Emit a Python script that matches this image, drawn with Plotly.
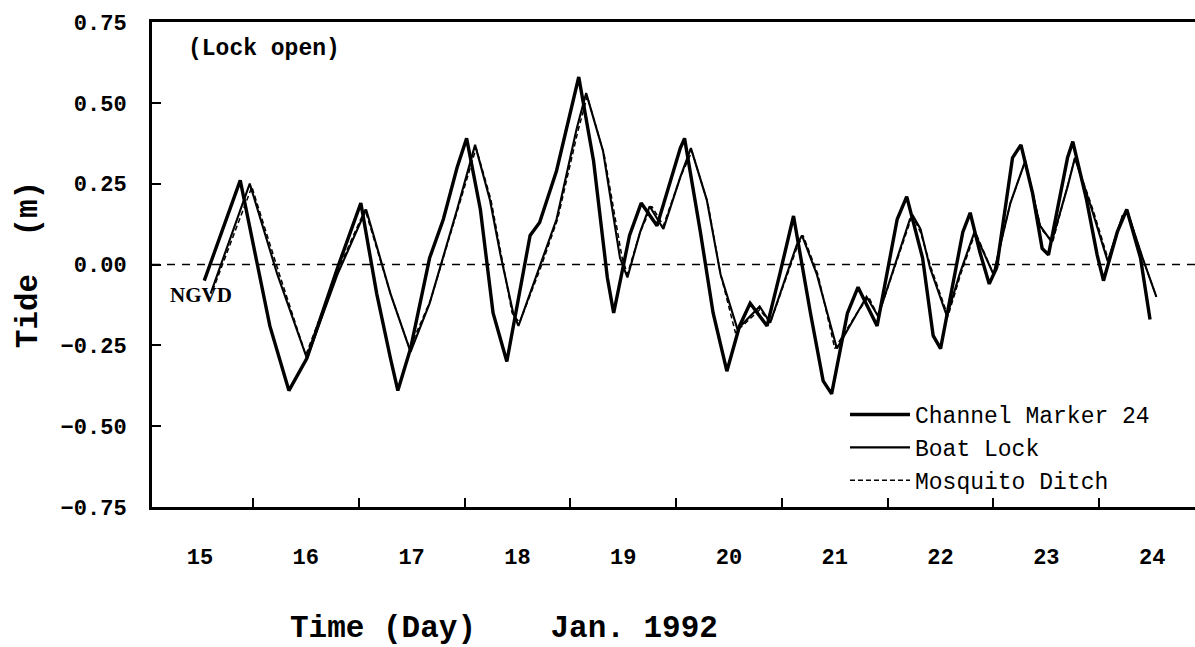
import plotly.graph_objects as go

# ---- data (day of Jan. 1992, tide in m) ----
cm_day = [15.04, 15.38, 15.66, 15.84, 16.01, 16.30, 16.52, 16.67, 16.80, 16.87, 16.99, 17.17,
          17.30, 17.43, 17.52, 17.65, 17.77, 17.90, 18.12, 18.21, 18.37, 18.58, 18.72, 18.85,
          18.91, 19.06, 19.17, 19.32, 19.54, 19.58, 19.73, 19.85, 19.98, 20.10, 20.20, 20.36,
          20.48, 20.61, 20.77, 20.89, 20.97, 21.12, 21.22, 21.40, 21.59, 21.68, 21.83, 21.93,
          22.00, 22.21, 22.28, 22.37, 22.46, 22.53, 22.68, 22.76, 22.87, 22.96, 23.02, 23.20,
          23.25, 23.38, 23.48, 23.54, 23.67, 23.76, 23.89, 23.98]
cm_tide = [-0.05, 0.26, -0.19, -0.39, -0.29, -0.01, 0.19, -0.09, -0.29, -0.39, -0.26, 0.02,
           0.14, 0.30, 0.39, 0.17, -0.15, -0.30, 0.09, 0.13, 0.29, 0.58, 0.32, -0.04,
           -0.15, 0.09, 0.19, 0.12, 0.36, 0.39, 0.10, -0.15, -0.33, -0.19, -0.12, -0.19,
           -0.03, 0.15, -0.15, -0.36, -0.40, -0.15, -0.07, -0.19, 0.14, 0.21, 0.02, -0.22,
           -0.26, 0.10, 0.16, 0.04, -0.06, -0.01, 0.33, 0.37, 0.22, 0.05, 0.03, 0.33,
           0.38, 0.20, 0.03, -0.05, 0.10, 0.17, 0.02, -0.17]

bl_day = [15.10, 15.47, 15.73, 16.01, 16.30, 16.57, 16.80, 16.99, 17.17, 17.27, 17.43, 17.60,
          17.74, 17.84, 17.96, 18.01, 18.21, 18.37, 18.56, 18.65, 18.81, 18.97, 19.04, 19.16,
          19.25, 19.38, 19.54, 19.64, 19.79, 19.92, 20.08, 20.29, 20.39, 20.64, 20.69, 20.83,
          21.02, 21.21, 21.30, 21.41, 21.71, 21.74, 21.81, 21.90, 22.06, 22.18, 22.32, 22.50,
          22.66, 22.80, 22.94, 23.05, 23.20, 23.27, 23.43, 23.58, 23.72, 23.77, 23.91, 24.04]
bl_tide = [-0.09, 0.25, -0.03, -0.29, -0.03, 0.17, -0.09, -0.27, -0.12, -0.01, 0.17, 0.37,
           0.20, 0.03, -0.15, -0.19, -0.01, 0.14, 0.42, 0.53, 0.35, 0.02, -0.04, 0.10,
           0.18, 0.11, 0.27, 0.36, 0.20, -0.03, -0.20, -0.13, -0.18, 0.06, 0.09, -0.03,
           -0.26, -0.15, -0.10, -0.16, 0.14, 0.15, 0.11, -0.01, -0.16, -0.03, 0.10, -0.03,
           0.19, 0.32, 0.12, 0.07, 0.24, 0.33, 0.17, 0.01, 0.15, 0.16, 0.02, -0.10]

md_day = [15.12, 15.49, 15.75, 16.00, 16.30, 16.56, 16.80, 16.98, 17.18, 17.28, 17.44, 17.61,
          17.75, 17.85, 17.95, 18.02, 18.22, 18.38, 18.57, 18.66, 18.82, 18.99, 19.04, 19.16,
          19.27, 19.38, 19.54, 19.65, 19.80, 19.92, 20.06, 20.29, 20.39, 20.64, 20.70, 20.84,
          21.00, 21.21, 21.32, 21.41, 21.72, 21.75, 21.81, 21.91, 22.07, 22.19, 22.33, 22.50,
          22.66, 22.80, 22.95, 23.06, 23.20, 23.27, 23.44, 23.59, 23.72, 23.77, 23.92, 24.04]
md_tide = [-0.08, 0.24, -0.03, -0.28, -0.02, 0.17, -0.09, -0.26, -0.11, 0.00, 0.17, 0.36,
           0.20, 0.02, -0.15, -0.18, -0.01, 0.14, 0.41, 0.52, 0.34, 0.02, -0.03, 0.10,
           0.18, 0.12, 0.27, 0.35, 0.19, -0.03, -0.21, -0.14, -0.18, 0.05, 0.09, -0.03,
           -0.26, -0.15, -0.10, -0.16, 0.14, 0.14, 0.10, -0.01, -0.16, -0.03, 0.10, -0.03,
           0.19, 0.32, 0.11, 0.07, 0.24, 0.33, 0.17, 0.01, 0.15, 0.16, 0.01, -0.10]

day_ticks = [15, 16, 17, 18, 19, 20, 21, 22, 23, 24]
day_tick_labels = ["15", "16", "17", "18", "19", "20", "21", "22", "23", "24"]
half_day_marks = [15.5, 16.5, 17.5, 18.5, 19.5, 20.5, 21.5, 22.5, 23.5]
tide_ticks = [0.75, 0.50, 0.25, 0.00, -0.25, -0.50, -0.75]
tide_tick_labels = ["0.75", "0.50", "0.25", "0.00", "\u22120.25", "\u22120.50", "\u22120.75"]

MONO = "Liberation Mono"

fig = go.Figure()
fig.add_trace(go.Scatter(x=cm_day, y=cm_tide, mode="lines", name="Channel Marker 24",
                         line=dict(color="black", width=3.4)))
fig.add_trace(go.Scatter(x=bl_day, y=bl_tide, mode="lines", name="Boat Lock",
                         line=dict(color="black", width=2.1)))
fig.add_trace(go.Scatter(x=md_day, y=md_tide, mode="lines", name="Mosquito Ditch",
                         line=dict(color="black", width=1.5, dash="5px,3px")))

# NGVD datum line
fig.add_shape(type="line", xref="paper", x0=0, x1=1, yref="y", y0=0, y1=0,
              line=dict(color="black", width=1.6, dash="8px,7px"))

fig.add_annotation(text="(Lock open)", xref="x", yref="y", x=14.87, y=0.667,
                   xanchor="left", yanchor="middle", showarrow=False,
                   font=dict(family=MONO, size=23, color="black", weight="bold"))
fig.add_annotation(text="NGVD", xref="x", yref="y", x=14.70, y=-0.095,
                   xanchor="left", yanchor="middle", showarrow=False,
                   font=dict(family="Liberation Serif", size=21, color="black", weight="bold"))
fig.add_annotation(text="Time (Day)\u00a0\u00a0\u00a0\u00a0Jan. 1992", xref="paper", yref="paper",
                   x=(504 - 152) / (1195 - 152), y=-(628 - 507) / (507 - 22),
                   xanchor="center", yanchor="middle", showarrow=False,
                   font=dict(family=MONO, size=31, color="black", weight="bold"))

fig.update_layout(
    width=1195, height=647,
    margin=dict(l=152, r=0, t=22, b=140),
    paper_bgcolor="white", plot_bgcolor="white",
    showlegend=True,
    legend=dict(x=(845 - 152) / (1195 - 152), y=(507 - 393) / (507 - 22),
                xanchor="left", yanchor="top", bgcolor="rgba(0,0,0,0)", borderwidth=0,
                itemwidth=60, tracegroupgap=0,
                font=dict(family=MONO, size=23, color="black")),
    xaxis=dict(range=[14.546, 24.405], showgrid=False, zeroline=False,
               showline=True, mirror=True, linecolor="black", linewidth=3,
               tickmode="array", tickvals=day_ticks, ticktext=day_tick_labels,
               ticks="", ticklabelstandoff=28,
               tickfont=dict(family=MONO, size=22, color="black", weight="bold"),
               minor=dict(tickmode="array", tickvals=half_day_marks, ticks="inside",
                          ticklen=9, tickwidth=1.5, tickcolor="black", showgrid=False)),
    yaxis=dict(range=[-0.75, 0.75], showgrid=False, zeroline=False,
               showline=True, mirror=False, linecolor="black", linewidth=3,
               tickmode="array", tickvals=tide_ticks, ticktext=tide_tick_labels,
               ticks="inside", ticklen=9, tickwidth=1.5, tickcolor="black",
               ticklabelstandoff=18,
               tickfont=dict(family=MONO, size=22, color="black", weight="bold"),
               title=dict(text="Tide\u00a0\u00a0(m)", standoff=14,
                          font=dict(family=MONO, size=31, color="black", weight="bold"))),
)

fig.write_html("out.html")
